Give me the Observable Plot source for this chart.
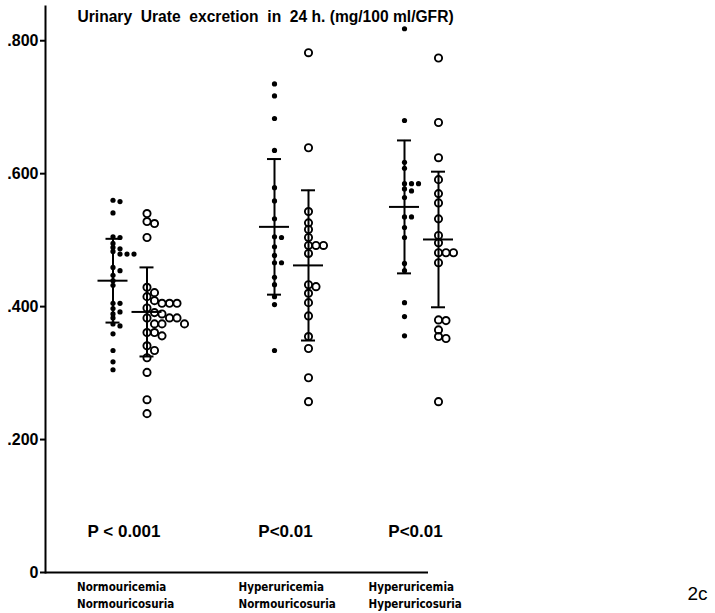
<!DOCTYPE html>
<html>
<head>
<meta charset="utf-8">
<script src="https://cdn.jsdelivr.net/npm/d3@7"></script>
<script src="https://cdn.jsdelivr.net/npm/@observablehq/plot@0.6"></script>
<style>
  body { margin: 0; background: #fff; }
  #chart { width: 715px; height: 613px; }
  #chart svg { font-family: "Liberation Sans", Arial, Helvetica, sans-serif; }
</style>
</head>
<body>
<div id="chart"></div>
<script>
// Urinary urate excretion in 24 h (mg/100 ml/GFR), three patient groups,
// two series each (filled dots / open circles), with mean ± SD bars.
const title = "Urinary  Urate  excretion  in  24 h. (mg/100 ml/GFR)";
const groupLabels = [
  "Normouricemia\nNormouricosuria",
  "Hyperuricemia\nNormouricosuria",
  "Hyperuricemia\nHyperuricosuria"
];
const pLabels = ["P < 0.001", "P<0.01", "P<0.01"];
const yTicks = [0, 0.2, 0.4, 0.6, 0.8];
const figureTag = "2c";

// Group 1: normouricemia / normouricosuria
const filled1 = [0.560, 0.558, 0.541, 0.505, 0.504, 0.495, 0.489, 0.487, 0.483,
  0.479, 0.479, 0.479, 0.459, 0.454, 0.447, 0.439, 0.432, 0.405, 0.405, 0.397,
  0.392, 0.389, 0.383, 0.374, 0.371, 0.359, 0.334, 0.317, 0.305];
const open1 = [0.540, 0.528, 0.525, 0.504, 0.429, 0.421, 0.415, 0.409, 0.405,
  0.405, 0.405, 0.398, 0.391, 0.389, 0.383, 0.383, 0.383, 0.374, 0.374, 0.374,
  0.361, 0.361, 0.356, 0.341, 0.334, 0.323, 0.301, 0.260, 0.239];

// Group 2: hyperuricemia / normouricosuria
const filled2 = [0.735, 0.717, 0.683, 0.635, 0.579, 0.559, 0.532, 0.505, 0.504,
  0.490, 0.477, 0.466, 0.466, 0.444, 0.433, 0.415, 0.403, 0.334];
const open2 = [0.782, 0.639, 0.543, 0.526, 0.516, 0.504, 0.492, 0.492, 0.492,
  0.480, 0.433, 0.430, 0.420, 0.406, 0.386, 0.355, 0.337, 0.293, 0.257];

// Group 3: hyperuricemia / hyperuricosuria
const filled3 = [0.818, 0.680, 0.617, 0.608, 0.585, 0.585, 0.585, 0.577, 0.574,
  0.564, 0.535, 0.535, 0.519, 0.504, 0.465, 0.454, 0.406, 0.385, 0.356];
const open3 = [0.774, 0.677, 0.624, 0.591, 0.570, 0.556, 0.532, 0.507, 0.496,
  0.481, 0.481, 0.481, 0.466, 0.380, 0.379, 0.365, 0.355, 0.352, 0.257];

// Mean and standard deviation per group
const filledMean = [0.439, 0.520, 0.550];
const filledSd   = [0.063, 0.102, 0.100];
const openMean   = [0.392, 0.462, 0.501];
const openSd     = [0.067, 0.113, 0.102];

// Spread overlapping points sideways: each value goes into the first lane
// whose previous point is far enough away (values sorted high to low).
function lanes(values, gap) {
  const order = d3.range(values.length).sort((a, b) => values[b] - values[a]);
  const last = [];
  const lane = new Array(values.length);
  for (const i of order) {
    let k = 0;
    while (last[k] !== undefined && Math.abs(last[k] - values[i]) < gap) k++;
    last[k] = values[i];
    lane[i] = k;
  }
  return lane;
}

const series = [[filled1, open1], [filled2, open2], [filled3, open3]];
const points = [];
series.forEach(([f, o], g) => {
  lanes(f, 0.006).forEach((lane, i) => points.push({g, kind: "filled", v: f[i], lane}));
  lanes(o, 0.010).forEach((lane, i) => points.push({g, kind: "open", v: o[i], lane}));
});

const stats = [];
for (let g = 0; g < 3; g++) {
  stats.push({g, kind: "filled", mean: filledMean[g], sd: filledSd[g]});
  stats.push({g, kind: "open", mean: openMean[g], sd: openSd[g]});
}

const offset = {filled: -17, open: 17};
const laneStep = {filled: 7, open: 7.5};

const marks = [
  Plot.frame({anchor: "left", strokeWidth: 2}),
  Plot.ruleY([0], {strokeWidth: 2}),
  Plot.axisY(yTicks, {
    tickSize: 5, tickPadding: 2, strokeWidth: 2, fontSize: 16, fontWeight: "bold",
    tickFormat: d => d === 0 ? "0" : d3.format(".3f")(d).replace(/^0/, "")
  })
];

for (const kind of ["filled", "open"]) {
  const s = stats.filter(d => d.kind === kind);
  const dx = offset[kind];
  marks.push(
    Plot.ruleX(s, {x: "g", y1: d => d.mean - d.sd, y2: d => d.mean + d.sd, dx, strokeWidth: 2}),
    Plot.ruleY(s, {x1: "g", x2: "g", y: d => d.mean + d.sd, dx, insetLeft: -7, insetRight: -7, strokeWidth: 2}),
    Plot.ruleY(s, {x1: "g", x2: "g", y: d => d.mean - d.sd, dx, insetLeft: -7, insetRight: -7, strokeWidth: 2}),
    Plot.ruleY(s, {x1: "g", x2: "g", y: "mean", dx, insetLeft: -15, insetRight: -15, strokeWidth: 2})
  );
  const maxLane = d3.max(points.filter(d => d.kind === kind), d => d.lane);
  for (let k = 0; k <= maxLane; k++) {
    const subset = points.filter(d => d.kind === kind && d.lane === k);
    const ddx = dx + k * laneStep[kind];
    marks.push(kind === "filled"
      ? Plot.dot(subset, {x: "g", y: "v", r: 2.6, fill: "black", dx: ddx})
      : Plot.dot(subset, {x: "g", y: "v", r: 3.6, stroke: "black", strokeWidth: 1.9, fill: "none", dx: ddx}));
  }
}

marks.push(
  Plot.text([title], {
    frameAnchor: "top-left", textAnchor: "start", lineAnchor: "top",
    dx: 32, dy: 4, fontSize: 15.6, fontWeight: "bold"
  }),
  Plot.text(pLabels, {
    x: (d, i) => i, text: d => d, frameAnchor: "bottom", dx: -6, dy: -36,
    fontSize: 17, fontWeight: "bold", style: {wordSpacing: "2px"}
  }),
  Plot.text(groupLabels, {
    x: (d, i) => i, text: d => d, frameAnchor: "bottom", textAnchor: "start",
    lineAnchor: "top", dx: -53, dy: 7, lineHeight: 1.45, fontSize: 11.5, fontWeight: "bold",
    fontFamily: "'Liberation Sans Narrow', 'DejaVu Sans Condensed', sans-serif"
  }),
  Plot.text([figureTag], {
    frameAnchor: "bottom-right", textAnchor: "start", dx: 259, dy: 27, fontSize: 19
  })
);

const chart = Plot.plot({
  width: 715,
  height: 613,
  marginLeft: 45,
  marginRight: 287,
  marginTop: 6,
  marginBottom: 41,
  style: {background: "white", color: "black"},
  x: {type: "linear", domain: [0, 1, 2], range: [129.5, 291, 421], axis: null},
  y: {type: "linear", domain: [0, 0.8515], axis: null},
  marks
});

document.getElementById("chart").append(chart);
</script>
</body>
</html>
